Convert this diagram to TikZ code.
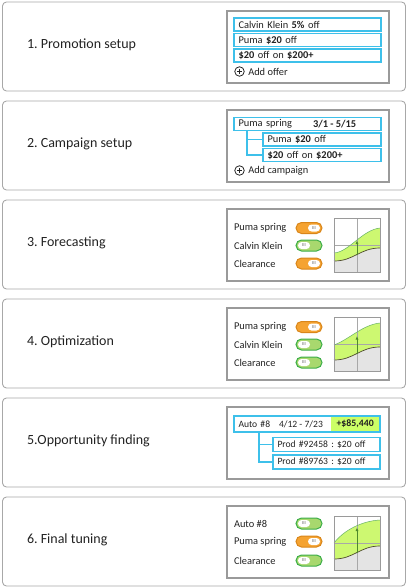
\documentclass[tikz,border=0pt]{standalone}
\usepackage{fontspec}
\setmainfont{Carlito}
\usetikzlibrary{calc,positioning,arrows.meta}
\definecolor{txt}{HTML}{222222}
\definecolor{framegray}{HTML}{A8A8A8}
\definecolor{panelgray}{HTML}{9A9A9A}
\definecolor{boxcyan}{HTML}{3EC0EA}
\definecolor{limegreen}{HTML}{CDF871}
\definecolor{gainlime}{HTML}{CCFF66}
\definecolor{chartgray}{HTML}{E4E4E4}
\definecolor{gridgray}{HTML}{A8A8A8}
\definecolor{togorange}{HTML}{F5A331}
\definecolor{togorangedark}{HTML}{D9861A}
\definecolor{toggreen}{HTML}{A8D86E}
\definecolor{toggreendark}{HTML}{3DAE49}
\definecolor{knobgray}{HTML}{8A8A8A}
\definecolor{arrowgreen}{HTML}{4F8A2A}

\begin{document}
\frenchspacing
\begin{tikzpicture}[x=1pt,y=-1pt,every node/.style={outer sep=0pt,text=txt}]
	\tikzstyle{section}=[draw=framegray,line width=0.9pt,rounded corners=4pt]
	\tikzstyle{panel}=[draw=panelgray,line width=1.1pt]
	\tikzstyle{title}=[anchor=west,inner sep=0pt,font=\fontsize{14}{16}\selectfont]
	\tikzstyle{label}=[anchor=west,inner sep=0pt,font=\fontsize{10.4}{12}\selectfont]
	\tikzstyle{cbox}=[draw=boxcyan,line width=1.3pt,fill=white,anchor=west,inner xsep=4.5pt,inner ysep=0pt,minimum height=13pt,align=left,font=\fontsize{10.4}{12}\selectfont]
	\tikzstyle{treeline}=[draw=boxcyan,line width=1.3pt]
	\tikzstyle{knob}=[fill=white,rounded corners=3.5pt,minimum width=12pt,minimum height=7pt,inner sep=0pt,text=knobgray,font=\fontsize{4.5}{5}\selectfont\bfseries]
	\tikzstyle{toggle}=[rounded corners=5.5pt,minimum width=26pt,minimum height=11pt,line width=1pt,inner sep=0pt]
	\tikzstyle{togon}=[toggle,fill=togorange,draw=togorangedark,path picture={\node[knob,anchor=east] at ([xshift=-2pt]path picture bounding box.east) {III};}]
	\tikzstyle{togoff}=[toggle,fill=toggreen,draw=toggreendark,path picture={\node[knob,anchor=west] at ([xshift=2pt]path picture bounding box.west) {III};}]
	\tikzstyle{chartbox}=[anchor=north west,minimum width=46pt,minimum height=54pt,inner sep=0pt,fill=white]
	\tikzstyle{chartframe}=[draw=panelgray,line width=0.9pt]
	\tikzstyle{gridline}=[draw=gridgray,line width=0.5pt]
	\tikzstyle{lowline}=[draw=black!60!olive,line width=0.7pt]
	\tikzstyle{upline}=[draw=green!50!black!60,line width=0.5pt]
	\tikzstyle{gainarrow}=[draw=arrowgreen,line width=0.7pt,-{Latex[length=3.5pt,width=3pt]}]
	\tikzstyle{addicon}=[circle,draw=txt,line width=0.8pt,minimum size=9.5pt,inner sep=0pt]
	\tikzstyle{pluscross}=[draw=txt,line width=0.9pt]

	\useasboundingbox (0,0) rectangle (408,588);

	% outer frames and panels
	\draw[section] (2.5,2) rectangle (405.5,91);
	\draw[section] (2.5,101) rectangle (405.5,190);
	\draw[section] (2.5,200) rectangle (405.5,289);
	\draw[section] (2.5,299) rectangle (405.5,388);
	\draw[section] (2.5,398) rectangle (405.5,487);
	\draw[section] (2.5,497) rectangle (405.5,586);
	\draw[panel] (227,11) rectangle (389,83);
	\draw[panel] (227,110) rectangle (389,182);
	\draw[panel] (227,209) rectangle (389,281);
	\draw[panel] (227,308) rectangle (389,380);
	\draw[panel] (227,407) rectangle (389,479);
	\draw[panel] (227,506) rectangle (389,578);

	% step titles
	\node (t1) [title] at (27,45) {1. Promotion setup};
	\node (t2) [title] at (27,144) {2. Campaign setup};
	\node (t3) [title] at (27,243) {3. Forecasting};
	\node (t4) [title] at (27,342) {4. Optimization};
	\node (t5) [title] at (27,441) {5.Opportunity finding};
	\node (t6) [title] at (27,540) {6. Final tuning};

	% 1. offers
	\node (ck) [cbox,text width=138pt] at (234,24.5) {Calvin Klein \textbf{5\%} off};
	\node (puma) [cbox,text width=138pt] at (234,40) {Puma \textbf{\$20} off};
	\node (spend) [cbox,text width=138pt] at (234,55.5) {\textbf{\$20} off on \textbf{\$200+}};
	\node (add1) [addicon] at (239.5,71.5) {};
	\draw[pluscross] ($(add1.center)+(-2.5,0)$) -- ($(add1.center)+(2.5,0)$) ($(add1.center)+(0,-2.5)$) -- ($(add1.center)+(0,2.5)$);
	\node (addoffer) [label,right=4pt of add1] {Add offer};

	% 2. campaign
	\node (camp) [cbox,text width=138pt] at (234,124) {Puma spring};
	\node (campdate) [label,font=\fontsize{10.4}{12}\selectfont\bfseries] at (313,124) {3/1 - 5/15};
	\node (cpuma) [cbox,text width=109pt] at (263,139.5) {Puma \textbf{\$20} off};
	\node (cspend) [cbox,text width=109pt] at (263,155) {\textbf{\$20} off on \textbf{\$200+}};
	\coordinate (cb) at ($(camp.south west)+(13,0)$);
	\draw[treeline] (cb) |- (cpuma.west);
	\draw[treeline] (cb) |- (cspend.west);
	\node (add2) [addicon] at (239.5,170.5) {};
	\draw[pluscross] ($(add2.center)+(-2.5,0)$) -- ($(add2.center)+(2.5,0)$) ($(add2.center)+(0,-2.5)$) -- ($(add2.center)+(0,2.5)$);
	\node (addcamp) [label,right=4pt of add2] {Add campaign};

	% 3. forecasting
	\node (f1) [label] at (234,228) {Puma spring};
	\node (f2) [label] at (234,245.5) {Calvin Klein};
	\node (f3) [label] at (234,263.5) {Clearance};
	\node (fs1) [togon] at (309,228) {};
	\node (fs2) [togoff] at (309,245.5) {};
	\node (fs3) [togon] at (309,263.5) {};
	\node (chart3) [chartbox] at (334,218) {};
	\begin{scope}[shift={(chart3.north west)}]
		\fill[chartgray] (0,43) .. controls (20,43) and (26,30) .. (46,30) -- (46,54) -- (0,54) -- cycle;
		\fill[limegreen] (0,35) .. controls (15,34) and (28,12) .. (46,10) -- (46,30) .. controls (26,30) and (20,43) .. (0,43) -- cycle;
		\draw[gridline] (23,0) -- (23,54) (0,27) -- (46,27);
		\draw[upline] (0,35) .. controls (15,34) and (28,12) .. (46,10);
		\draw[lowline] (0,43) .. controls (20,43) and (26,30) .. (46,30);
		\draw[gainarrow] (23,36.5) -- (23,22.5);
	\end{scope}
	\draw[chartframe] (chart3.north west) rectangle (chart3.south east);

	% 4. optimization
	\node (o1) [label] at (234,327) {Puma spring};
	\node (o2) [label] at (234,344.5) {Calvin Klein};
	\node (o3) [label] at (234,362.5) {Clearance};
	\node (os1) [togon] at (309,327) {};
	\node (os2) [togoff] at (309,344.5) {};
	\node (os3) [togoff] at (309,362.5) {};
	\node (chart4) [chartbox] at (334,317) {};
	\begin{scope}[shift={(chart4.north west)}]
		\fill[chartgray] (0,43) .. controls (20,43) and (26,30) .. (46,30) -- (46,54) -- (0,54) -- cycle;
		\fill[limegreen] (0,28) .. controls (16,22) and (28,8) .. (46,6) -- (46,30) .. controls (26,30) and (20,43) .. (0,43) -- cycle;
		\draw[gridline] (23,0) -- (23,54) (0,27) -- (46,27);
		\draw[upline] (0,28) .. controls (16,22) and (28,8) .. (46,6);
		\draw[lowline] (0,43) .. controls (20,43) and (26,30) .. (46,30);
		\draw[gainarrow] (23,36.5) -- (23,19);
	\end{scope}
	\draw[chartframe] (chart4.north west) rectangle (chart4.south east);

	% 5. opportunity
	\node (auto) [cbox,text width=137pt,minimum height=16pt,font=\fontsize{9.6}{12}\selectfont] at (234,424) {Auto \#8};
	\node (autodate) [label,font=\fontsize{9.6}{12}\selectfont] at (279,424) {4/12 - 7/23};
	\node (gain) [anchor=east,fill=gainlime,minimum height=14.7pt,minimum width=48.5pt,inner sep=0pt,font=\fontsize{9.8}{12}\selectfont\bfseries] at ($(auto.east)+(-0.65,0)$) {+\$85,440};
	\node (prod1) [cbox,text width=98pt,minimum height=14pt,font=\fontsize{9.6}{12}\selectfont] at (273,444.5) {Prod \#92458 : \$20 off};
	\node (prod2) [cbox,text width=98pt,minimum height=14pt,font=\fontsize{9.6}{12}\selectfont] at (273,462) {Prod \#89763 : \$20 off};
	\coordinate (ab) at ($(auto.south west)+(25,0)$);
	\draw[treeline] (ab) |- (prod1.west);
	\draw[treeline] (ab) |- (prod2.west);

	% 6. final tuning
	\node (g1) [label] at (234,523.5) {Auto \#8};
	\node (g2) [label] at (234,541.5) {Puma spring};
	\node (g3) [label] at (234,560.5) {Clearance};
	\node (gs1) [togoff] at (309,523.5) {};
	\node (gs2) [togon] at (309,541.5) {};
	\node (gs3) [togoff] at (309,560.5) {};
	\node (chart6) [chartbox] at (334,516) {};
	\begin{scope}[shift={(chart6.north west)}]
		\fill[chartgray] (0,43) .. controls (20,43) and (26,30) .. (46,30) -- (46,54) -- (0,54) -- cycle;
		\fill[limegreen] (0,27) .. controls (10,14) and (28,5) .. (46,4) -- (46,30) .. controls (26,30) and (20,43) .. (0,43) -- cycle;
		\draw[gridline] (23,0) -- (23,54) (0,27) -- (46,27);
		\draw[upline] (0,27) .. controls (10,14) and (28,5) .. (46,4);
		\draw[lowline] (0,43) .. controls (20,43) and (26,30) .. (46,30);
		\draw[gainarrow] (23,36.5) -- (23,11.5);
	\end{scope}
	\draw[chartframe] (chart6.north west) rectangle (chart6.south east);
\end{tikzpicture}
\end{document}
